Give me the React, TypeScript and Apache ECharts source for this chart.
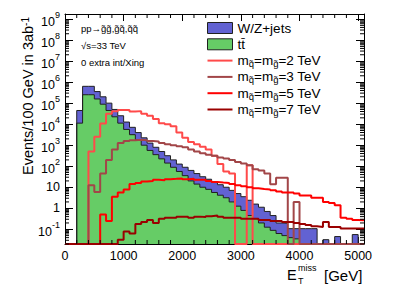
import React, { useEffect, useRef } from "react";
import * as echarts from "echarts";

const FONT = "'Liberation Sans', Arial, Helvetica, sans-serif";

// Histogram binning (GeV)
const BIN = 100;
const BKG_START = 200; // first background bin lower edge
const SIG_START = 0; // signal histograms drawn from 0
const X_MAX = 5100;
const Y_MIN = -1.7; // log10 of axis minimum
const Y_MAX = 9.24; // log10 of axis maximum

// Backgrounds, events / 100 GeV, bins 200..5100
const ttbar = [
  11200, 251000, 251000, 158000, 89100, 44700, 22400, 11200, 5620, 3160,
  1780, 1000, 562, 355, 224, 141, 89.1, 56.2, 35.5, 20.0,
  14.1, 10.0, 7.94, 5.62, 4.17, 3.16, 2.0, 1.26, 0.79, 0.45,
  0.32, 0.2, 0.126, 0.089, 0.063, 0.05, 0.04, 0.035, 0, 0,
  0, 0, 0, 0, 0, 0, 0, 0, 0,
];
const wzJets = [
  33500, 380000, 380000, 197000, 111000, 55300, 27700, 13900, 6980, 3920,
  2200, 1240, 698, 439, 277, 175, 111, 70, 53.6, 43.1,
  30.6, 21.6, 16.1, 12.2, 9.0, 6.84, 5.08, 3.75, 2.76, 1.95,
  1.26, 0.92, 0.58, 0.36, 0.137, 0.14, 0.067, 0.072, 0.107, 0.107,
  0.107, 0, 0.032, 0, 0.045, 0, 0, 0.056, 0,
];

// Signals, events / 100 GeV, bins 0..5100
const sig2TeV = [
  0, 0, 0, 0, 500, 2510, 10700, 31600, 41700, 46800,
  46800, 39800, 41700, 31600, 25100, 17800, 11200, 10000, 7940, 3980,
  2240, 1410, 1120, 832, 631, 316, 126, 56, 45, 0,
  0, 112, 0, 0, 0, 0, 0, 0, 0, 0,
  0, 0, 0, 0, 0, 0, 0, 0, 0, 0, 0,
];
const sig3TeV = [
  0, 0, 0, 0, 12.6, 6.0, 44.7, 200, 631, 1260,
  1580, 1740, 1820, 1740, 1580, 1480, 1260, 1120, 1000, 891,
  794, 631, 501, 417, 355, 316, 263, 234, 200, 158,
  135, 112, 71, 63, 45, 14, 28, 28, 0, 2.0,
  0, 0, 0, 0, 0, 0, 0, 0, 0, 0, 0,
];
const sig5TeV = [
  0, 0, 0, 0, 0, 0, 0.5, 0.25, 3.5, 5.6,
  7.9, 14.1, 15.8, 18.6, 20, 22.4, 21.4, 24, 25.1, 26.3,
  24, 25.1, 22.4, 22.9, 20, 17.8, 16.6, 15.8, 14.1, 12.6,
  11.2, 10, 8.9, 8.3, 7.9, 7.1, 6.3, 5.6, 5.6, 5.0,
  4.0, 4.0, 3.2, 3.2, 2.0, 1.8, 1.4, 0.35, 0.32, 0.28, 0.27,
];
const sig7TeV = [
  0, 0, 0, 0, 0, 0, 0, 0, 0, 0.032,
  0.079, 0.063, 0.18, 0.22, 0.28, 0.2, 0.32, 0.35, 0.35, 0.4,
  0.4, 0.35, 0.4, 0.38, 0.42, 0.45, 0.4, 0.35, 0.35, 0.35,
  0.32, 0.32, 0.32, 0.28, 0.28, 0.25, 0.25, 0.22, 0.22, 0.2,
  0.18, 0.16, 0.14, 0.13, 0.22, 0.13, 0.13, 0.11, 0.11, 0.11, 0.11,
];

const xTicks = [0, 1000, 2000, 3000, 4000, 5000];

const NAMES = {
  wz: "W/Z+jets",
  tt: "tt\u0304",
  s2: "mq\u0303=mg\u0303=2 TeV",
  s3: "mq\u0303=mg\u0303=3 TeV",
  s5: "mq\u0303=mg\u0303=5 TeV",
  s7: "mq\u0303=mg\u0303=7 TeV",
};

const COLORS = {
  wz: "#6262d2",
  tt: "#66cc66",
  s2: "#ff4a4a",
  s3: "#a24648",
  s5: "#ff0000",
  s7: "#9a0000",
  outline: "#202020",
};

function lg(v: number) {
  return v > 0 ? Math.log10(v) : Y_MIN;
}

function histPoints(values: number[], start: number, closeRight: boolean) {
  const pts: number[][] = [[start, Y_MIN]];
  values.forEach((v, i) => {
    const y = lg(v);
    pts.push([start + i * BIN, y], [start + (i + 1) * BIN, y]);
  });
  if (closeRight) pts.push([start + values.length * BIN, Y_MIN]);
  return pts;
}

export default function App() {
  const ref = useRef<HTMLDivElement>(null);

  useEffect(() => {
    if (!ref.current) return;
    const chart = echarts.init(ref.current, undefined, { renderer: "svg" });

    const bkgTotal = ttbar.map((t, i) => t + wzJets[i]);

    const minorY: number[][] = [];
    for (let e = -2; e <= 9; e++) {
      for (let k = 2; k <= 9; k++) {
        const v = e + Math.log10(k);
        if (v > Y_MIN && v < Y_MAX) minorY.push([0, v]);
      }
    }
    const minorX: number[][] = [];
    for (let g = 200; g < X_MAX; g += 200) {
      if (!xTicks.includes(g)) minorX.push([g, Y_MIN]);
    }

    const areaSeries = (name: string, data: number[][], color: string) => ({
      name,
      type: "line",
      data,
      symbol: "none",
      showSymbol: false,
      lineStyle: { color: COLORS.outline, width: 1 },
      itemStyle: { color },
      areaStyle: { color, opacity: 1, origin: "start" },
      emphasis: { disabled: true },
      silent: true,
    });
    const lineSeries = (name: string, data: number[][], color: string) => ({
      name,
      type: "line",
      data,
      symbol: "none",
      showSymbol: false,
      lineStyle: { color, width: 2 },
      itemStyle: { color },
      emphasis: { disabled: true },
      silent: true,
    });

    const axisLineStyle = { show: true, onZero: false, lineStyle: { color: "#000", width: 1 } };

    const yLabel = (v: number) => {
      const e = Math.round(v);
      if (Math.abs(v - e) > 1e-6) return "";
      if (e === 0) return "1";
      if (e === 1) return "10";
      return `{b|10}{s|${e}}`;
    };

    const legendLine = (name: string, color: string) => ({
      name,
      icon: "path://M0,0h25v2h-25z",
      itemStyle: { color, borderWidth: 0 },
    });

    const option: any = {
      animation: false,
      backgroundColor: "#fff",
      grid: { left: 65, right: 41, top: 14, bottom: 47, containLabel: false },
      xAxis: [
        {
          type: "value",
          min: 0,
          max: X_MAX,
          interval: 1000,
          position: "bottom",
          axisLine: axisLineStyle,
          axisTick: { inside: true, length: 7, lineStyle: { color: "#000" } },
          axisLabel: {
            color: "#000",
            fontSize: 12.5,
            fontFamily: FONT,
            margin: 5,
            showMaxLabel: false,
            formatter: (v: number) => (xTicks.includes(v) ? String(v) : ""),
          },
          splitLine: { show: false },
        },
        {
          type: "value",
          min: 0,
          max: X_MAX,
          interval: 1000,
          position: "top",
          axisLine: axisLineStyle,
          axisTick: { inside: true, length: 7, lineStyle: { color: "#000" } },
          axisLabel: { show: false },
          splitLine: { show: false },
        },
      ],
      yAxis: [
        {
          type: "value",
          min: Y_MIN,
          max: Y_MAX,
          minInterval: 1,
          maxInterval: 1,
          splitNumber: 11,
          position: "left",
          axisLine: axisLineStyle,
          axisTick: { inside: true, length: 8, lineStyle: { color: "#000" } },
          axisLabel: {
            color: "#000",
            fontSize: 12.5,
            fontFamily: FONT,
            margin: 5,
            showMinLabel: false,
            showMaxLabel: false,
            formatter: yLabel,
            rich: {
              b: { fontSize: 12.5, fontFamily: FONT, color: "#000", lineHeight: 18, verticalAlign: "bottom" },
              s: { fontSize: 9, fontFamily: FONT, color: "#000", lineHeight: 10, verticalAlign: "top" },
            },
          },
          splitLine: { show: false },
        },
        {
          type: "value",
          min: Y_MIN,
          max: Y_MAX,
          minInterval: 1,
          maxInterval: 1,
          splitNumber: 11,
          position: "right",
          axisLine: axisLineStyle,
          axisTick: { inside: true, length: 8, lineStyle: { color: "#000" } },
          axisLabel: { show: false },
          splitLine: { show: false },
        },
      ],
      legend: {
        orient: "vertical",
        left: 207,
        top: 20,
        padding: 0,
        itemWidth: 25,
        itemHeight: 11,
        itemGap: 0.3,
        selectedMode: false,
        textStyle: {
          fontFamily: FONT,
          fontSize: 13.5,
          color: "#000",
          lineHeight: 16,
          rich: {
            s: { fontFamily: FONT, fontSize: 9.5, color: "#000", lineHeight: 9, verticalAlign: "bottom" },
          },
        },
        formatter: (name: string) => name.replace(/m(q\u0303|g\u0303)/g, "m{s|$1}"),
        data: [
          { name: NAMES.wz, icon: "rect", itemStyle: { color: COLORS.wz, borderColor: COLORS.outline, borderWidth: 1 } },
          { name: NAMES.tt, icon: "rect", itemStyle: { color: COLORS.tt, borderColor: COLORS.outline, borderWidth: 1 } },
          legendLine(NAMES.s2, COLORS.s2),
          legendLine(NAMES.s3, COLORS.s3),
          legendLine(NAMES.s5, COLORS.s5),
          legendLine(NAMES.s7, COLORS.s7),
        ],
      },
      series: [
        areaSeries(NAMES.wz, histPoints(bkgTotal, BKG_START, true), COLORS.wz),
        areaSeries(NAMES.tt, histPoints(ttbar, BKG_START, true), COLORS.tt),
        lineSeries(NAMES.s2, histPoints(sig2TeV, SIG_START, false), COLORS.s2),
        lineSeries(NAMES.s3, histPoints(sig3TeV, SIG_START, false), COLORS.s3),
        lineSeries(NAMES.s5, histPoints(sig5TeV, SIG_START, false), COLORS.s5),
        lineSeries(NAMES.s7, histPoints(sig7TeV, SIG_START, false), COLORS.s7),
        {
          type: "custom",
          silent: true,
          clip: false,
          z: 10,
          data: minorY,
          encode: { x: 0, y: 1 },
          renderItem: (_p: any, api: any) => {
            const v = api.value(1);
            const l = api.coord([0, v]);
            const r = api.coord([X_MAX, v]);
            return {
              type: "group",
              children: [
                { type: "line", shape: { x1: l[0], y1: l[1], x2: l[0] + 4, y2: l[1] }, style: { stroke: "#000", lineWidth: 1 } },
                { type: "line", shape: { x1: r[0], y1: r[1], x2: r[0] - 4, y2: r[1] }, style: { stroke: "#000", lineWidth: 1 } },
              ],
            };
          },
        },
        {
          type: "custom",
          silent: true,
          clip: false,
          z: 10,
          data: minorX,
          encode: { x: 0, y: 1 },
          renderItem: (_p: any, api: any) => {
            const g = api.value(0);
            const b = api.coord([g, Y_MIN]);
            const t = api.coord([g, Y_MAX]);
            return {
              type: "group",
              children: [
                { type: "line", shape: { x1: b[0], y1: b[1], x2: b[0], y2: b[1] - 4 }, style: { stroke: "#000", lineWidth: 1 } },
                { type: "line", shape: { x1: t[0], y1: t[1], x2: t[0], y2: t[1] + 4 }, style: { stroke: "#000", lineWidth: 1 } },
              ],
            };
          },
        },
      ],
      graphic: [
        {
          type: "text",
          x: 28,
          y: 17,
          rotation: Math.PI / 2,
          style: {
            text: "Events/100 GeV in 3ab{s|-1}",
            fontFamily: FONT,
            fontSize: 14.5,
            fill: "#000",
            align: "right",
            verticalAlign: "middle",
            rich: {
              s: { fontFamily: FONT, fontSize: 10, fill: "#000", verticalAlign: "top", lineHeight: 10 },
            },
          },
        },
        { type: "text", x: 287, y: 275, style: { text: "E", fontFamily: FONT, fontSize: 14.5, fill: "#000", verticalAlign: "middle" } },
        { type: "text", x: 298, y: 267.5, style: { text: "miss", fontFamily: FONT, fontSize: 9, fill: "#000", verticalAlign: "middle" } },
        { type: "text", x: 298, y: 281, style: { text: "T", fontFamily: FONT, fontSize: 9, fill: "#000", verticalAlign: "middle" } },
        { type: "text", x: 324, y: 275, style: { text: "[GeV]", fontFamily: FONT, fontSize: 15, fill: "#000", verticalAlign: "middle" } },
        { type: "text", x: 81, y: 28, style: { text: "pp\u2192g\u0303g\u0303,g\u0303q\u0303,q\u0303q\u0303", fontFamily: FONT, fontSize: 9.5, fill: "#000", verticalAlign: "middle" } },
        { type: "text", x: 81, y: 45, style: { text: "\u221As=33 TeV", fontFamily: FONT, fontSize: 9.5, fill: "#000", verticalAlign: "middle" } },
        { type: "text", x: 81, y: 62, style: { text: "0 extra int/Xing", fontFamily: FONT, fontSize: 9.5, fill: "#000", verticalAlign: "middle" } },
      ],
    };

    chart.setOption(option);
    return () => chart.dispose();
  }, []);

  return (
    <div
      ref={ref}
      style={{ position: "fixed", left: 0, top: 0, width: 405, height: 291, background: "#fff" }}
    />
  );
}
